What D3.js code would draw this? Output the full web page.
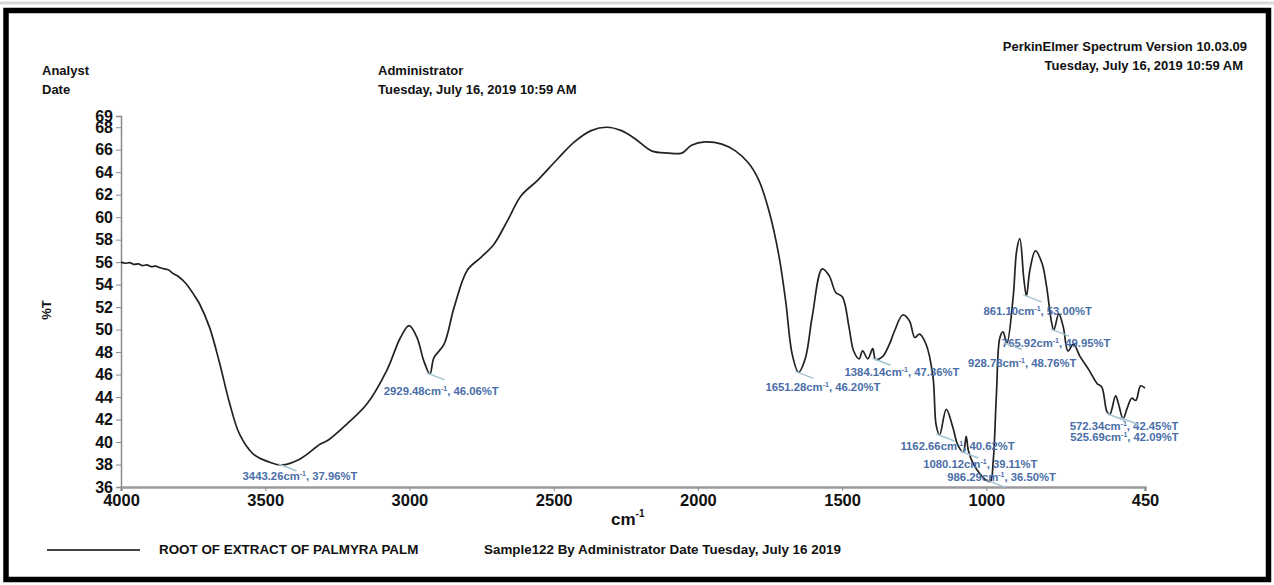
<!DOCTYPE html>
<html><head><meta charset="utf-8">
<script src="https://cdn.jsdelivr.net/npm/d3@7"></script>
<style>
html,body{margin:0;padding:0;background:#fff;}
svg{display:block;font-family:"Liberation Sans",Arial,sans-serif;}
</style></head>
<body>
<svg id="chart" width="1274" height="585"></svg>
<script>
// ---- data ----
const wavenumber = [4000,3985,3970,3955,3940,3925,3910,3895,3880,3865,3850,3835,3820,3800,3775,3750,3728,3693,3658,3623,3589,3542,3484,3443,3379,3310,3280,3217,3147,3078,3031,3001,2974,2950,2929,2915,2880,2845,2799,2753,2707,2660,2613,2555,2486,2428,2370,2316,2265,2219,2161,2103,2056,2022,1975,1917,1870,1824,1789,1754,1720,1696,1673,1651,1627,1604,1569,1545,1522,1499,1476,1460,1441,1429,1411,1394,1384,1360,1336,1318,1290,1267,1248,1232,1209,1185,1174,1162,1139,1116,1100,1080,1070,1062,1046,1023,1000,986,976,965,953,942,929,907,895,884,870,861,849,830,807,791,775,766,749,733,717,698,675,644,616,600,582,572,552,542,526,512,496,482,465,450];
const transmittance = [56.0,55.9,55.95,55.8,55.85,55.7,55.75,55.6,55.65,55.5,55.4,55.3,55.0,54.7,54.1,53.2,52.3,50.2,47.0,43.4,40.7,38.95,38.2,37.96,38.5,39.8,40.2,41.6,43.4,46.4,49.3,50.35,49.3,47.2,46.06,47.5,48.7,52.0,55.3,56.4,57.6,59.7,61.9,63.3,65.2,66.7,67.7,68.0,67.7,67.0,65.9,65.7,65.7,66.4,66.7,66.5,65.9,64.8,63.3,60.6,56.7,52.6,47.8,46.2,47.5,51.1,55.4,54.8,53.3,52.9,50.2,48.1,47.4,48.1,47.4,48.3,47.36,47.6,48.7,49.9,51.3,50.8,49.3,49.6,48.7,45.8,41.5,40.62,42.9,41.3,39.8,39.11,40.5,39.2,38.1,37.2,36.6,36.5,38.4,44.3,49.3,49.8,48.76,52.9,57.0,58.1,54.5,53.0,55.3,57.0,55.9,53.8,50.8,49.95,51.4,50.2,48.1,48.7,47.6,46.4,45.2,44.9,42.7,42.45,44.1,43.4,42.09,43.0,43.9,43.7,45.0,44.8];

const yTicks = [36,38,40,42,44,46,48,50,52,54,56,58,60,62,64,66,68,69];
const xTicks = [4000,3500,3000,2500,2000,1500,1000,450];

const peakWn = [3443.26,2929.48,1651.28,1384.14,1162.66,1080.12,986.29,861.10,765.92,928.78,572.34,525.69];
const peakT  = [37.96,46.06,46.20,47.36,40.62,39.11,36.50,53.00,49.95,48.76,42.45,42.09];
// label placement offsets (dx, dy) relative to the peak point
const labelDx = [-39,-46,-33,-31,-39,-40,-43,-43,-52,-39,-40,-53];
const labelDy = [15,21,19,17,15,16,0,19,17,23,16,22];

const legendName = "ROOT OF EXTRACT OF PALMYRA PALM";
const sampleText = "Sample122 By Administrator Date Tuesday, July 16 2019";

// ---- drawing ----
const svg = d3.select("#chart");
const W = 1274, H = 585;

svg.append("rect").attr("x",0).attr("y",0).attr("width",W).attr("height",H).attr("fill","#fff");
svg.append("line").attr("x1",0).attr("x2",W).attr("y1",3).attr("y2",3).attr("stroke","#d8d8d8").attr("stroke-width",3);
svg.append("rect").attr("x",6).attr("y",10.5).attr("width",1262.5).attr("height",569)
  .attr("fill","none").attr("stroke","#000").attr("stroke-width",5.5);

const x = d3.scaleLinear().domain([4000,450]).range([121,1145]);
const y = d3.scaleLinear().domain([36,69]).range([487,116]);

// header text
const hdr = svg.append("g").attr("font-weight","bold").attr("font-size",13).attr("fill","#111");
hdr.append("text").attr("x",42).attr("y",75).text("Analyst");
hdr.append("text").attr("x",42).attr("y",94).text("Date");
hdr.append("text").attr("x",378).attr("y",75).text("Administrator");
hdr.append("text").attr("x",378).attr("y",94).text("Tuesday, July 16, 2019 10:59 AM");
hdr.append("text").attr("x",1247).attr("y",51).attr("text-anchor","end").text("PerkinElmer Spectrum Version 10.03.09");
hdr.append("text").attr("x",1243).attr("y",70).attr("text-anchor","end").text("Tuesday, July 16, 2019 10:59 AM");

// axes
const yAxis = d3.axisLeft(y).tickValues(yTicks).tickSize(5).tickPadding(3).tickFormat(d3.format("d"));
const gy = svg.append("g").attr("transform","translate(121,0)").call(yAxis);
gy.select(".domain").attr("stroke","#8a8a8a").attr("stroke-width",1.5);
gy.selectAll(".tick line").attr("stroke","#8a8a8a");
gy.selectAll(".tick text").attr("font-size",16).attr("font-weight","bold").attr("fill","#111")
  .attr("font-family","Liberation Sans, Arial, sans-serif");

const xAxis = d3.axisBottom(x).tickValues(xTicks).tickSize(4).tickPadding(3).tickFormat(d3.format("d"));
const gx = svg.append("g").attr("transform","translate(0,487)").call(xAxis);
gx.select(".domain").attr("stroke","#9a9a9a").attr("stroke-width",2.5);
gx.selectAll(".tick line").attr("stroke","#8a8a8a");
gx.selectAll(".tick text").attr("font-size",16.5).attr("font-weight","bold").attr("fill","#111")
  .attr("font-family","Liberation Sans, Arial, sans-serif");

// axis titles
const xt = svg.append("text").attr("x",611).attr("y",525).attr("font-size",17).attr("font-weight","bold").attr("fill","#111");
xt.append("tspan").text("cm");
xt.append("tspan").attr("dy",-8).attr("font-size",10).text("-1");
svg.append("text").attr("transform","translate(51,310) rotate(-90)").attr("text-anchor","middle")
  .attr("font-size",13).attr("font-weight","bold").attr("fill","#111").text("%T");

// spectrum
const pts = wavenumber.map((w,i)=>[w,transmittance[i]]);
const line = d3.line().x(d=>x(d[0])).y(d=>y(d[1])).curve(d3.curveCatmullRom.alpha(0.5));
svg.append("path").datum(pts).attr("d",line).attr("fill","none").attr("stroke","#222").attr("stroke-width",1.7);

// peak annotations
const ann = svg.append("g");
peakWn.forEach((w,i)=>{
  const px = x(w), py = y(peakT[i]);
  ann.append("line").attr("x1",px-3).attr("y1",py-1).attr("x2",px+15).attr("y2",py+6)
    .attr("stroke","#a3c3d3").attr("stroke-width",1.5);
  const t = ann.append("text").attr("x",px+labelDx[i]).attr("y",py+labelDy[i])
    .attr("font-size",11.3).attr("font-weight","bold").attr("fill","#4a6ea8");
  t.append("tspan").text(w.toFixed(2)+"cm");
  t.append("tspan").attr("dy",-4).attr("font-size",7).text("-1");
  t.append("tspan").attr("dy",4).text(", "+peakT[i].toFixed(2)+"%T");
});

// legend
svg.append("line").attr("x1",47).attr("x2",140).attr("y1",550).attr("y2",550).attr("stroke","#444").attr("stroke-width",2.2);
svg.append("text").attr("x",159).attr("y",554).attr("font-size",13.4).attr("font-weight","bold").attr("fill","#111").text(legendName);
svg.append("text").attr("x",484).attr("y",554).attr("font-size",13.4).attr("font-weight","bold").attr("fill","#111").text(sampleText);
</script>
</body></html>
